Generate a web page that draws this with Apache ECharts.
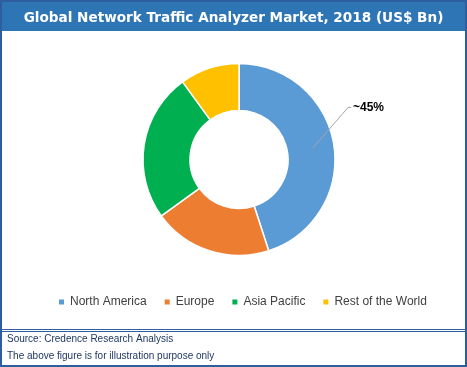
<!DOCTYPE html>
<html>
<head>
<meta charset="utf-8">
<script src="https://cdn.jsdelivr.net/npm/echarts@6/dist/echarts.min.js"></script>
<style>
html,body{margin:0;padding:0;background:#fff;}
#chart{width:467px;height:367px;}
</style>
</head>
<body>
<div id="chart"></div>
<script>
// ---- data ----
const titleText = 'Global Network Traffic Analyzer Market, 2018 (US$ Bn)';
const categories = ['North America', 'Europe', 'Asia Pacific', 'Rest of the World'];
const values = [45, 20, 25, 10];
const colors = ['#5B9BD5', '#ED7D31', '#00B050', '#FFC000'];
const labelTexts = ['~45%', '', '', ''];
const notes = ['Source: Credence Research Analysis', 'The above figure is for illustration purpose only'];

// ---- layout ----
const CX = 239, CY = 159.5, R_OUT = 96, R_IN = 49;
const total = values.reduce((a, b) => a + b, 0);

const chart = echarts.init(document.getElementById('chart'), null, {renderer: 'canvas'});

const baseSeries = {
  type: 'pie',
  center: [CX, CY],
  radius: [R_IN, R_OUT],
  startAngle: 90,
  clockwise: true,
  avoidLabelOverlap: false,
  emphasis: {disabled: true}
};

const option = {
  animation: false,
  backgroundColor: '#ffffff',
  title: {
    text: titleText,
    left: 'center',
    top: 6,
    textStyle: {color: '#ffffff', fontSize: 13.6, fontWeight: 'bold', fontFamily: 'DejaVu Sans'}
  },
  legend: {
    data: categories,
    left: 52,
    top: 291,
    icon: 'rect',
    itemWidth: 7,
    itemHeight: 7,
    itemGap: 16,
    textStyle: {color: '#404040', fontSize: 12, fontFamily: 'Liberation Sans'}
  },
  graphic: [
    {type: 'rect', z: -1, shape: {x: 0, y: 0, width: 467, height: 31}, style: {fill: '#2E75B6'}},
    {type: 'rect', z: 10, shape: {x: 1, y: 1, width: 465, height: 365}, style: {fill: 'none', stroke: '#2E5E9E', lineWidth: 2}},
    {type: 'line', z: 10, shape: {x1: 0, y1: 329.5, x2: 467, y2: 329.5}, style: {stroke: '#2E5E9E', lineWidth: 1}},
    {type: 'line', z: 10, shape: {x1: 0, y1: 331.5, x2: 467, y2: 331.5}, style: {stroke: '#2E5E9E', lineWidth: 1}},
    {type: 'text', z: 10, x: 7, y: 339.5, style: {text: notes[0], fill: '#1F3864', font: '10px "Liberation Sans"', verticalAlign: 'middle'}},
    {type: 'text', z: 10, x: 7, y: 356.5, style: {text: notes[1], fill: '#1F3864', font: '10px "Liberation Sans"', verticalAlign: 'middle'}}
  ],
  series: [
    Object.assign({}, baseSeries, {
      name: 'Market',
      z: 2,
      itemStyle: {borderColor: '#ffffff', borderWidth: 1.5},
      label: {show: false},
      labelLine: {show: false},
      data: categories.map((c, i) => ({name: c, value: values[i], itemStyle: {color: colors[i]}}))
    }),
    Object.assign({}, baseSeries, {
      name: 'Labels',
      z: 5,
      legendHoverLink: false,
      itemStyle: {color: 'rgba(0,0,0,0)', borderWidth: 0},
      label: {
        show: true,
        position: 'outside',
        formatter: p => labelTexts[p.dataIndex],
        color: '#000000',
        fontSize: 12,
        fontWeight: 'bold',
        fontFamily: 'Liberation Sans'
      },
      labelLine: {show: true, length: 20, length2: 5, lineStyle: {color: '#A6A6A6', width: 1}},
      labelLayout: function (p) {
        if (labelTexts[p.dataIndex] === '') return {};
        let cum = 0;
        for (let i = 0; i < p.dataIndex; i++) cum += values[i];
        const mid = (cum + values[p.dataIndex] / 2) / total * 2 * Math.PI;
        const rs = 75;
        const sx = CX + rs * Math.sin(mid), sy = CY - rs * Math.cos(mid);
        const ex = 348, ey = 107.5;
        return {
          x: ex + 5, y: ey + 0.5, align: 'left', verticalAlign: 'middle',
          labelLinePoints: [[sx, sy], [ex, ey], [ex + 3, ey]]
        };
      },
      data: categories.map((c, i) => ({
        name: c, value: values[i],
        label: {show: labelTexts[i] !== ''},
        labelLine: {show: labelTexts[i] !== ''}
      }))
    })
  ]
};
chart.setOption(option);
</script>
</body>
</html>
